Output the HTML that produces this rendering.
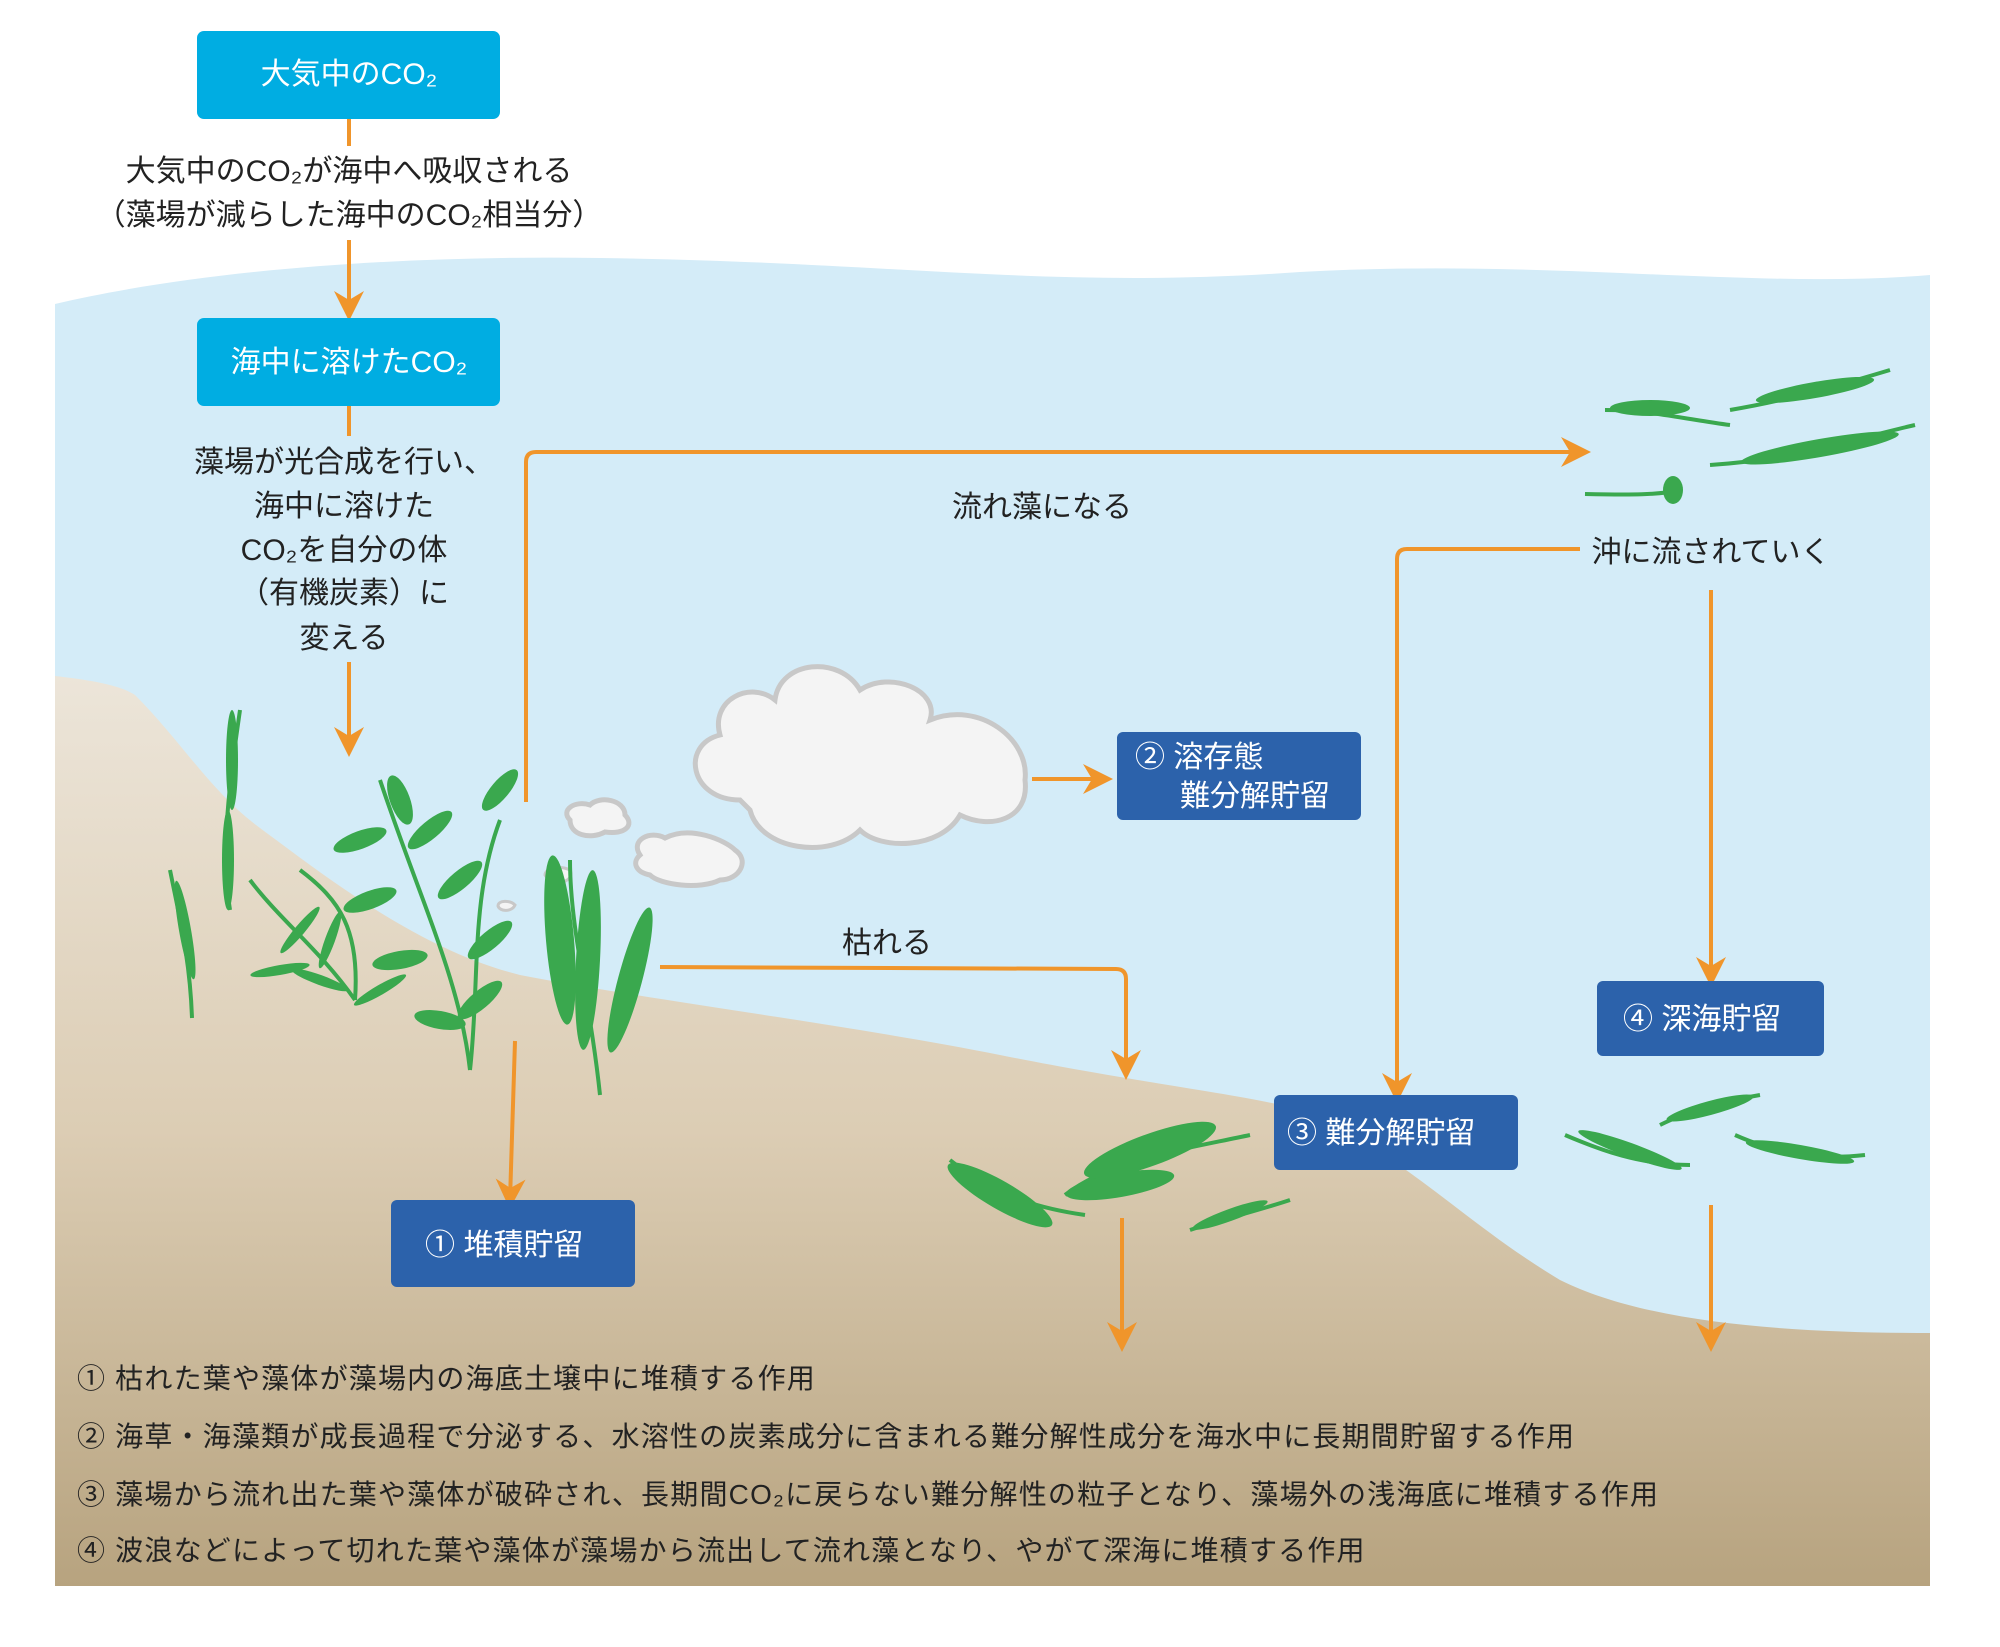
<!DOCTYPE html>
<html><head><meta charset="utf-8"><style>
html,body{margin:0;padding:0;background:#fff}
svg{display:block}
text{font-family:"Liberation Sans","Noto Sans CJK JP",sans-serif}
</style></head><body>
<svg width="2000" height="1647" viewBox="0 0 2000 1647" xmlns="http://www.w3.org/2000/svg">
<defs>
<linearGradient id="sand" x1="0" y1="0" x2="0" y2="1">
<stop offset="0" stop-color="#ece5d9"/><stop offset="0.5" stop-color="#dccdb4"/><stop offset="1" stop-color="#b7a37f"/>
</linearGradient>
<marker id="ah" viewBox="0 0 20 20" refX="14" refY="10" markerWidth="30" markerHeight="30" markerUnits="userSpaceOnUse" orient="auto">
<path d="M0,0 L20,10 L0,20 L6,10 Z" fill="#f0952b"/></marker>
</defs>
<!-- water -->
<path d="M55,304 C200,270 400,255 600,258 C900,262 1050,290 1300,272 C1550,258 1750,290 1930,275 L1930,1586 L55,1586 Z" fill="#d4ecf8"/>
<!-- sand -->
<path d="M55,676 C90,680 120,685 135,695 C180,740 210,790 256,825 C330,880 420,950 520,975 C650,1000 850,1025 1000,1055 C1150,1085 1250,1095 1300,1110 C1400,1150 1460,1220 1560,1280 C1650,1325 1800,1333 1930,1333 L1930,1586 L55,1586 Z" fill="url(#sand)"/>

<!-- connectors -->
<g stroke="#f0952b" stroke-width="4" fill="none">
<line x1="349" y1="119" x2="349" y2="146"/>
<line x1="349" y1="240" x2="349" y2="312" marker-end="url(#ah)"/>
<line x1="349" y1="406" x2="349" y2="436"/>
<line x1="349" y1="662" x2="349" y2="748" marker-end="url(#ah)"/>
<path d="M526,802 L526,462 Q526,452 536,452 L1582,452" marker-end="url(#ah)"/>
<path d="M1580,549 L1407,549 Q1397,549 1397,559 L1397,1094" marker-end="url(#ah)"/>
<line x1="1711" y1="590" x2="1711" y2="978" marker-end="url(#ah)"/>
<line x1="1032" y1="779" x2="1104" y2="779" marker-end="url(#ah)"/>
<path d="M660,967 L1116,969 Q1126,969 1126,979 L1126,1071" marker-end="url(#ah)"/>
<line x1="515" y1="1041" x2="510" y2="1200" marker-end="url(#ah)"/>
<line x1="1122" y1="1218" x2="1122" y2="1343" marker-end="url(#ah)"/>
<line x1="1711" y1="1205" x2="1711" y2="1343" marker-end="url(#ah)"/>
</g>

<!-- cyan boxes -->
<rect x="197" y="31" width="303" height="88" rx="7" fill="#00ade2"/>
<text x="349" y="84" font-size="30" fill="#fff" text-anchor="middle">大気中のCO₂</text>
<rect x="197" y="318" width="303" height="88" rx="7" fill="#00ade2"/>
<text x="349" y="372" font-size="30" fill="#fff" text-anchor="middle">海中に溶けたCO₂</text>

<g font-size="30" fill="#222" text-anchor="middle">
<text x="349" y="181">大気中のCO₂が海中へ吸収される</text>
<text x="349" y="225">（藻場が減らした海中のCO₂相当分）</text>
<text x="344" y="472">藻場が光合成を行い、</text>
<text x="344" y="516">海中に溶けた</text>
<text x="344" y="560">CO₂を自分の体</text>
<text x="344" y="603">（有機炭素）に</text>
<text x="344" y="648">変える</text>
<text x="1042" y="517">流れ藻になる</text>
<text x="1711" y="562">沖に流されていく</text>
<text x="887" y="953">枯れる</text>
</g>

<!-- dark boxes -->
<g fill="#2c62ab">
<rect x="1117" y="732" width="244" height="88" rx="6"/>
<rect x="1274" y="1095" width="244" height="75" rx="6"/>
<rect x="1597" y="981" width="227" height="75" rx="6"/>
<rect x="391" y="1200" width="244" height="87" rx="6"/>
</g>
<g font-size="30" fill="#fff">
<text x="1135" y="767">② 溶存態</text>
<text x="1180" y="806">難分解貯留</text>
<text x="1287" y="1143">③ 難分解貯留</text>
<text x="1623" y="1029">④ 深海貯留</text>
<text x="425" y="1255">① 堆積貯留</text>
</g>

<!-- cloud -->
<g fill="#f4f4f4" stroke="#c8c8c8" stroke-width="5">
<path d="M740,800 C690,800 680,745 720,735 C710,700 750,680 775,700 C780,660 840,655 860,690 C890,670 940,690 930,720 C980,700 1030,740 1025,780 C1030,820 990,830 960,815 C940,850 880,850 860,830 C830,860 760,850 750,810 Z"/>
<path d="M570,820 C560,810 575,800 590,805 C600,795 625,800 625,815 C635,825 625,835 605,832 C590,840 570,835 570,820 Z"/>
<path d="M640,855 C630,840 650,830 665,838 C690,825 725,840 735,850 C750,860 740,880 720,880 C700,890 660,885 650,875 C635,872 632,862 640,855 Z"/>
<path d="M545,875 C545,868 560,865 570,870 C575,880 560,885 550,882 Z" stroke-width="3"/>
<path d="M498,906 C498,900 510,900 515,905 C512,912 500,912 498,906 Z" stroke-width="3"/>
</g>

<!-- plants -->
<g fill="none" stroke="#3aa84e" stroke-width="4">
<path d="M470,1070 C460,980 420,900 380,780"/>
<path d="M470,1070 C480,980 470,900 500,820"/>
<path d="M355,1000 C320,950 280,920 250,880"/>
<path d="M355,1000 C360,930 340,900 300,870"/>
<path d="M600,1095 C590,1000 570,930 570,860"/>
<path d="M230,910 C220,850 230,780 240,710"/>
<path d="M192,1018 C190,960 180,920 170,870"/>
<path d="M1065,1195 C1110,1160 1180,1150 1250,1135"/>
<path d="M950,1160 C1000,1200 1050,1210 1085,1215"/>
<path d="M1190,1230 C1220,1220 1260,1210 1290,1200"/>
<path d="M1605,410 C1650,410 1690,420 1730,425"/>
<path d="M1730,410 C1790,400 1840,385 1890,370"/>
<path d="M1710,465 C1790,460 1850,440 1915,425"/>
<path d="M1585,494 C1630,495 1660,495 1680,490"/>
<path d="M1565,1135 C1600,1150 1640,1165 1690,1165"/>
<path d="M1660,1125 C1690,1110 1730,1100 1760,1095"/>
<path d="M1735,1135 C1780,1155 1820,1160 1865,1155"/>
</g>
<g fill="#3aa84e">
<ellipse cx="400" cy="800" rx="10" ry="26" transform="rotate(-20 400 800)"/>
<ellipse cx="360" cy="840" rx="28" ry="9" transform="rotate(-20 360 840)"/>
<ellipse cx="430" cy="830" rx="28" ry="9" transform="rotate(-40 430 830)"/>
<ellipse cx="370" cy="900" rx="28" ry="9" transform="rotate(-20 370 900)"/>
<ellipse cx="460" cy="880" rx="28" ry="9" transform="rotate(-40 460 880)"/>
<ellipse cx="400" cy="960" rx="28" ry="9" transform="rotate(-10 400 960)"/>
<ellipse cx="490" cy="940" rx="28" ry="9" transform="rotate(-40 490 940)"/>
<ellipse cx="480" cy="1000" rx="28" ry="9" transform="rotate(-40 480 1000)"/>
<ellipse cx="440" cy="1020" rx="26" ry="9" transform="rotate(10 440 1020)"/>
<ellipse cx="500" cy="790" rx="26" ry="9" transform="rotate(-50 500 790)"/>
<ellipse cx="560" cy="940" rx="14" ry="85" transform="rotate(-5 560 940)"/>
<ellipse cx="588" cy="960" rx="12" ry="90" transform="rotate(3 588 960)"/>
<ellipse cx="630" cy="980" rx="12" ry="75" transform="rotate(15 630 980)"/>
<ellipse cx="300" cy="930" rx="30" ry="5" transform="rotate(-50 300 930)"/>
<ellipse cx="330" cy="940" rx="30" ry="5" transform="rotate(-70 330 940)"/>
<ellipse cx="280" cy="970" rx="30" ry="5" transform="rotate(-10 280 970)"/>
<ellipse cx="320" cy="980" rx="30" ry="5" transform="rotate(20 320 980)"/>
<ellipse cx="380" cy="990" rx="30" ry="5" transform="rotate(-30 380 990)"/>
<ellipse cx="232" cy="760" rx="6" ry="50"/>
<ellipse cx="228" cy="860" rx="6" ry="50"/>
<ellipse cx="185" cy="930" rx="6" ry="50" transform="rotate(-10 185 930)"/>
<ellipse cx="1000" cy="1195" rx="60" ry="14" transform="rotate(30 1000 1195)"/>
<ellipse cx="1150" cy="1150" rx="70" ry="16" transform="rotate(-20 1150 1150)"/>
<ellipse cx="1120" cy="1185" rx="55" ry="12" transform="rotate(-10 1120 1185)"/>
<ellipse cx="1230" cy="1215" rx="40" ry="6" transform="rotate(-20 1230 1215)"/>
<ellipse cx="1650" cy="408" rx="40" ry="8"/>
<ellipse cx="1815" cy="390" rx="60" ry="8" transform="rotate(-10 1815 390)"/>
<ellipse cx="1820" cy="448" rx="80" ry="9" transform="rotate(-10 1820 448)"/>
<ellipse cx="1673" cy="490" rx="10" ry="14"/>
<ellipse cx="1630" cy="1150" rx="55" ry="7" transform="rotate(20 1630 1150)"/>
<ellipse cx="1710" cy="1108" rx="45" ry="7" transform="rotate(-15 1710 1108)"/>
<ellipse cx="1800" cy="1152" rx="55" ry="7" transform="rotate(10 1800 1152)"/>
</g>

<!-- footnotes -->
<g font-size="28" fill="#222" letter-spacing="1.2">
<text x="77" y="1388">① 枯れた葉や藻体が藻場内の海底土壌中に堆積する作用</text>
<text x="77" y="1446">② 海草・海藻類が成長過程で分泌する、水溶性の炭素成分に含まれる難分解性成分を海水中に長期間貯留する作用</text>
<text x="77" y="1504">③ 藻場から流れ出た葉や藻体が破砕され、長期間CO₂に戻らない難分解性の粒子となり、藻場外の浅海底に堆積する作用</text>
<text x="77" y="1560">④ 波浪などによって切れた葉や藻体が藻場から流出して流れ藻となり、やがて深海に堆積する作用</text>
</g>
</svg>
</body></html>
